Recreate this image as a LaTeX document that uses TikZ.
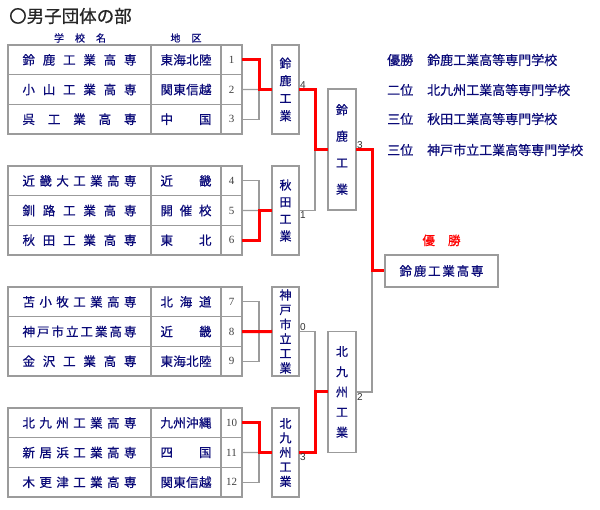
\documentclass[tikz,border=0pt]{standalone}
\usepackage{fontspec}
\setmainfont{Liberation Serif}
\newfontfamily\jp[FakeBold=0.6]{Noto Sans CJK JP}
\newfontfamily\lsans{Liberation Sans}
\usetikzlibrary{positioning}
\definecolor{navy}{RGB}{10,10,120}
\definecolor{cellgray}{RGB}{155,155,155}

% spread the characters of #2 evenly over the width #1
\newcommand\spreadbox[2]{\makebox[#1][s]{\expandafter\spreadrun#2\spreadend}}
\def\spreadrun#1#2\spreadend{#1\ifx\relax#2\relax\else\hfill\spreadrun#2\spreadend\fi}

\begin{document}
\begin{tikzpicture}[
    x=1pt, y=-1pt,
    cell/.style={draw=cellgray, line width=1.3pt, text=navy, inner sep=0pt, outer sep=0pt, minimum height=29.7pt},
    namecell/.style={cell, minimum width=143pt, font=\jp\fontsize{12.5}{14}\selectfont},
    regcell/.style={cell, minimum width=70pt, font=\jp\fontsize{12.5}{14}\selectfont},
    numcell/.style={cell, minimum width=21pt, text=black!75, font=\fontsize{11}{12}\selectfont},
    vbox/.style={draw=cellgray, line width=1.3pt, fill=white, text=navy, inner sep=0pt, outer sep=0pt, minimum width=27pt, align=center, font={\jp\fontsize{12}{#1}\selectfont}},
    score/.style={inner sep=1pt, text=black!80, font=\lsans\fontsize{10}{11}\selectfont},
    link/.style={draw=cellgray, line width=1.1pt},
    win/.style={draw=red, line width=3pt},
    rank/.style={anchor=west, inner sep=0pt, text=navy, font=\jp\fontsize{13}{15}\selectfont}
]
\useasboundingbox (0,0) rectangle (600,510);

\node[anchor=west, inner sep=0pt, text=black!85, font=\jp\fontsize{17.5}{20}\selectfont] (title) at (9,16) {〇男子団体の部};
\node[text=navy, font=\jp\fontsize{10}{12}\selectfont] (hname) at (80,38) {\spreadbox{52pt}{学校名}};
\node[text=navy, font=\jp\fontsize{10}{12}\selectfont] (hreg) at (186,38) {\spreadbox{31pt}{地区}};

% entry table, four groups of three
\foreach \i/\nm/\rg [count=\k from 0] in {
    1/鈴鹿工業高専/東海北陸, 2/小山工業高専/関東信越, 3/呉工業高専/中国,
    4/近畿大工業高専/近畿, 5/釧路工業高専/開催校, 6/秋田工業高専/東北,
    7/苫小牧工業高専/北海道, 8/神戸市立工業高専/近畿, 9/金沢工業高専/東海北陸,
    10/北九州工業高専/九州沖縄, 11/新居浜工業高専/四国, 12/木更津工業高専/関東信越} {
  \pgfmathsetmacro\yy{45+121*int(\k/3)+29.7*mod(\k,3)+14.85}
  \node[namecell] (name\i) at (79.5,\yy) {\spreadbox{114pt}{\nm}};
  \node[regcell] (reg\i) at (186,\yy) {\spreadbox{51pt}{\rg}};
  \node[numcell] (num\i) at (231.5,\yy) {\i};
}

% first round
\node[vbox=17.5, minimum height=89pt] (win1) at (285.5,89.5) {鈴\\鹿\\工\\業};
\node[vbox=17, minimum height=89pt] (win2) at (285.5,210.5) {秋\\田\\工\\業};
\node[vbox=14.6, minimum height=89pt] (win3) at (285.5,331.5) {神\\戸\\市\\立\\工\\業};
\node[vbox=14.5, minimum height=89pt] (win4) at (285.5,452.5) {北\\九\\州\\工\\業};

% second round and final
\node[vbox=26.5, minimum width=28pt, minimum height=121pt] (semi1) at (342,149.5) {鈴\\鹿\\工\\業};
\node[vbox=20.2, minimum width=28pt, minimum height=121pt] (semi2) at (342,392) {北\\九\\州\\工\\業};
\node[draw=cellgray, line width=1.3pt, text=navy, minimum width=113pt, minimum height=32pt, inner sep=0pt, font=\jp\fontsize{12.5}{14}\selectfont] (champ) at (441.5,271) {\spreadbox{84pt}{鈴鹿工業高専}};
\node[above=8pt of champ, inner sep=0pt, text=red, font=\jp\fontsize{12.5}{14}\selectfont] (champlbl) {\spreadbox{38pt}{優勝}};

% brackets
\foreach \a/\b/\c/\w in {1/2/3/win1, 4/5/6/win2, 7/8/9/win3, 10/11/12/win4} {
  \draw[link] (num\a.east) -- ++(17,0) |- (num\c.east);
  \draw[link] (num\b.east) -- (\w.west);
}
\draw[link] (win1.east) -- ++(16,0) |- (win2.east);
\draw[link] (win3.east) -- ++(16,0) |- (win4.east);
\draw[link] (semi1.east) -- ++(16,0) |- (semi2.east);

\draw[win] (num1.east) -- ++(17,0) |- (win1.west);
\draw[win] (num6.east) -- ++(17,0) |- (win2.west);
\draw[win] (num8.east) -- (win3.west);
\draw[win] (num10.east) -- ++(17,0) |- (win4.west);
\draw[win] (win1.east) -- ++(16,0) |- (semi1.west);
\draw[win] (win4.east) -- ++(16,0) |- (semi2.west);
\draw[win] (semi1.east) -- ++(16,0) |- (champ.west);

% scores
\node[score, anchor=south west] (sc1) at (win1.east) {4};
\node[score, anchor=north west] (sc2) at (win2.east) {1};
\node[score, anchor=south west] (sc3) at (win3.east) {0};
\node[score, anchor=north west] (sc4) at (win4.east) {3};
\node[score, anchor=south west] (sc5) at (semi1.east) {3};
\node[score, anchor=north west] (sc6) at (semi2.east) {2};

% final standings
\foreach \j/\yy/\rk/\sch in {1/60/優勝/鈴鹿工業高等専門学校, 2/90/二位/北九州工業高等専門学校,
    3/119/三位/秋田工業高等専門学校, 4/150/三位/神戸市立工業高等専門学校} {
  \node[rank] (rank\j) at (387,\yy) {\rk};
  \node[rank] (school\j) at (427,\yy) {\sch};
}
\end{tikzpicture}
\end{document}
